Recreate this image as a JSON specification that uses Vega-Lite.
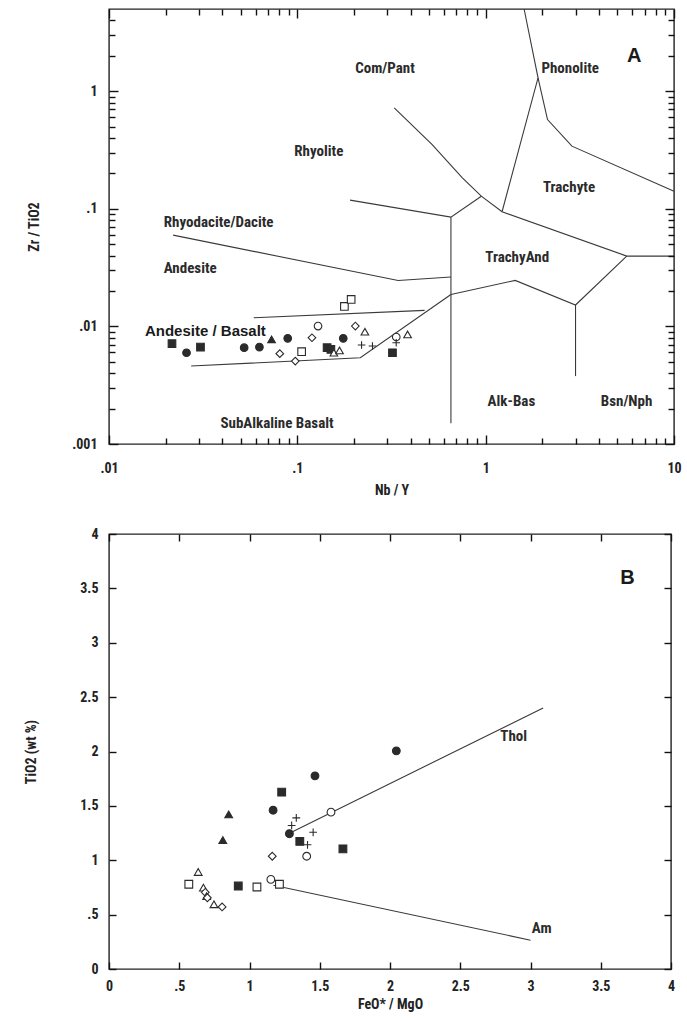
{
  "$schema": "https://vega.github.io/schema/vega-lite/v6.json",
  "background": "white",
  "padding": {"left": 23, "top": 6, "right": 10, "bottom": 0},
  "config": {
    "font": "Liberation Sans Narrow, Roboto Condensed, DejaVu Sans Condensed, sans-serif",
    "view": {"stroke": "#222", "strokeWidth": 1.4},
    "axis": {
      "grid": false, "domain": false,
      "labelFontSize": 14, "labelFontWeight": "bold", "labelColor": "#222",
      "titleFontSize": 14, "titleFontWeight": "bold", "titleColor": "#222",
      "tickColor": "#111", "tickWidth": 1.4,
      "labelOverlap": false, "labelFlush": false
    },
    "concat": {"spacing": 28}
  },
  "datasets": {
    "linesA": [
      {"seg": 1, "i": 1, "x": 0.327, "y": 0.722},
      {"seg": 1, "i": 2, "x": 0.52, "y": 0.352},
      {"seg": 1, "i": 3, "x": 0.752, "y": 0.183},
      {"seg": 1, "i": 4, "x": 0.948, "y": 0.128},
      {"seg": 1, "i": 5, "x": 1.222, "y": 0.0944},
      {"seg": 1, "i": 6, "x": 5.61, "y": 0.0396},
      {"seg": 1, "i": 7, "x": 10, "y": 0.0396},
      {"seg": 2, "i": 1, "x": 1.6, "y": 5},
      {"seg": 2, "i": 2, "x": 1.897, "y": 1.3},
      {"seg": 2, "i": 3, "x": 1.222, "y": 0.0944},
      {"seg": 3, "i": 1, "x": 1.897, "y": 1.3},
      {"seg": 3, "i": 2, "x": 2.13, "y": 0.574},
      {"seg": 3, "i": 3, "x": 2.87, "y": 0.341},
      {"seg": 3, "i": 4, "x": 10, "y": 0.141},
      {"seg": 4, "i": 1, "x": 0.1905, "y": 0.1185},
      {"seg": 4, "i": 2, "x": 0.654, "y": 0.0849},
      {"seg": 4, "i": 3, "x": 0.948, "y": 0.128},
      {"seg": 5, "i": 1, "x": 0.654, "y": 0.0849},
      {"seg": 5, "i": 2, "x": 0.654, "y": 0.0015},
      {"seg": 6, "i": 1, "x": 0.0219, "y": 0.0597},
      {"seg": 6, "i": 2, "x": 0.343, "y": 0.0246},
      {"seg": 6, "i": 3, "x": 0.654, "y": 0.0263},
      {"seg": 7, "i": 1, "x": 0.654, "y": 0.0187},
      {"seg": 7, "i": 2, "x": 1.435, "y": 0.0246},
      {"seg": 7, "i": 3, "x": 3.0, "y": 0.0152},
      {"seg": 7, "i": 4, "x": 5.61, "y": 0.0396},
      {"seg": 8, "i": 1, "x": 3.0, "y": 0.0152},
      {"seg": 8, "i": 2, "x": 3.0, "y": 0.00378},
      {"seg": 9, "i": 1, "x": 0.0587, "y": 0.01185},
      {"seg": 9, "i": 2, "x": 0.474, "y": 0.01368},
      {"seg": 10, "i": 1, "x": 0.0273, "y": 0.0046},
      {"seg": 10, "i": 2, "x": 0.216, "y": 0.00542},
      {"seg": 10, "i": 3, "x": 0.654, "y": 0.0187}
    ],
    "ptsA": [
      {"type": "fsq", "x": 0.0216, "y": 0.00713},
      {"type": "fci", "x": 0.0258, "y": 0.00597},
      {"type": "fsq", "x": 0.0306, "y": 0.00667},
      {"type": "fci", "x": 0.0522, "y": 0.00659},
      {"type": "fci", "x": 0.0629, "y": 0.00667},
      {"type": "ftr", "x": 0.073, "y": 0.00776},
      {"type": "fci", "x": 0.0889, "y": 0.00791},
      {"type": "odi", "x": 0.0807, "y": 0.00586},
      {"type": "odi", "x": 0.0975, "y": 0.00507},
      {"type": "osq", "x": 0.1054, "y": 0.00609},
      {"type": "odi", "x": 0.1196, "y": 0.00801},
      {"type": "oci", "x": 0.1288, "y": 0.01007},
      {"type": "fsq", "x": 0.1439, "y": 0.00659},
      {"type": "fsq", "x": 0.1507, "y": 0.00638},
      {"type": "otr", "x": 0.1563, "y": 0.00597},
      {"type": "otr", "x": 0.1675, "y": 0.00625},
      {"type": "fci", "x": 0.1753, "y": 0.00791},
      {"type": "osq", "x": 0.1778, "y": 0.01479},
      {"type": "osq", "x": 0.1931, "y": 0.01696},
      {"type": "odi", "x": 0.2032, "y": 0.01007},
      {"type": "otr", "x": 0.2284, "y": 0.00901},
      {"type": "plus", "x": 0.2193, "y": 0.00694},
      {"type": "plus", "x": 0.2506, "y": 0.00681},
      {"type": "oci", "x": 0.3352, "y": 0.00812},
      {"type": "plus", "x": 0.335, "y": 0.00727},
      {"type": "fsq", "x": 0.32, "y": 0.00597},
      {"type": "otr", "x": 0.385, "y": 0.00855}
    ],
    "labA": [
      {"kind": "field", "label": "Com/Pant", "x": 0.292, "y": 1.58},
      {"kind": "field", "label": "Phonolite", "x": 2.81, "y": 1.58},
      {"kind": "panel", "label": "A", "x": 6.15, "y": 1.98},
      {"kind": "field", "label": "Rhyolite", "x": 0.13, "y": 0.309},
      {"kind": "field", "label": "Trachyte", "x": 2.77, "y": 0.153},
      {"kind": "field", "label": "Rhyodacite/Dacite", "x": 0.0382, "y": 0.0776},
      {"kind": "field", "label": "TrachyAnd", "x": 1.47, "y": 0.0388},
      {"kind": "field", "label": "Andesite", "x": 0.027, "y": 0.0311},
      {"kind": "group", "label": "Andesite / Basalt", "x": 0.0325, "y": 0.00912},
      {"kind": "field", "label": "Alk-Bas", "x": 1.37, "y": 0.00232},
      {"kind": "field", "label": "Bsn/Nph", "x": 5.6, "y": 0.00232},
      {"kind": "field", "label": "SubAlkaline Basalt", "x": 0.078, "y": 0.00152}
    ],
    "linesB": [
      {"seg": 1, "i": 1, "x": 1.27, "y": 1.24},
      {"seg": 1, "i": 2, "x": 3.09, "y": 2.4},
      {"seg": 2, "i": 1, "x": 1.17, "y": 0.77},
      {"seg": 2, "i": 2, "x": 3.0, "y": 0.265}
    ],
    "ptsB": [
      {"type": "fci", "x": 2.045, "y": 2.006},
      {"type": "fci", "x": 1.466, "y": 1.776},
      {"type": "fsq", "x": 1.229, "y": 1.626},
      {"type": "fci", "x": 1.168, "y": 1.46},
      {"type": "ftr", "x": 0.852, "y": 1.422},
      {"type": "ftr", "x": 0.81, "y": 1.186},
      {"type": "oci", "x": 1.58, "y": 1.442},
      {"type": "plus", "x": 1.333, "y": 1.39},
      {"type": "plus", "x": 1.3, "y": 1.32},
      {"type": "fci", "x": 1.284, "y": 1.244},
      {"type": "plus", "x": 1.453, "y": 1.257},
      {"type": "fsq", "x": 1.358, "y": 1.173},
      {"type": "plus", "x": 1.413, "y": 1.142},
      {"type": "fsq", "x": 1.665, "y": 1.105},
      {"type": "odi", "x": 1.162, "y": 1.037},
      {"type": "oci", "x": 1.407, "y": 1.037},
      {"type": "otr", "x": 0.635, "y": 0.892},
      {"type": "osq", "x": 0.568, "y": 0.779},
      {"type": "fsq", "x": 0.92, "y": 0.763},
      {"type": "osq", "x": 1.053, "y": 0.754},
      {"type": "oci", "x": 1.152, "y": 0.824},
      {"type": "osq", "x": 1.213, "y": 0.779},
      {"type": "otr", "x": 0.672, "y": 0.748},
      {"type": "odi", "x": 0.685, "y": 0.705},
      {"type": "otr", "x": 0.695, "y": 0.67},
      {"type": "odi", "x": 0.7, "y": 0.655},
      {"type": "otr", "x": 0.747, "y": 0.595},
      {"type": "odi", "x": 0.805, "y": 0.571}
    ],
    "labB": [
      {"kind": "field", "label": "Thol", "x": 2.88, "y": 2.14},
      {"kind": "field", "label": "Am", "x": 3.08, "y": 0.38},
      {"kind": "panel", "label": "B", "x": 3.69, "y": 3.6}
    ]
  },
  "vconcat": [
    {
      "width": 565,
      "height": 435,
      "resolve": {"axis": {"x": "independent", "y": "independent"}},
      "layer": [
        {
          "data": {"name": "linesA"},
          "mark": {"type": "line", "stroke": "#3a3a3a", "strokeWidth": 1.1},
          "encoding": {
            "x": {
              "field": "x", "type": "quantitative",
              "scale": {"type": "log", "domain": [0.01, 10], "nice": false},
              "axis": {
                "orient": "bottom", "title": "Nb / Y", "zindex": 1,
                "values": [0.01, 0.1, 1, 10],
                "labelExpr": "replace(format(datum.value, '~g'), '0.', '.')",
                "tickSize": 9, "offset": -9,
                "labelPadding": 17, "minExtent": 40, "maxExtent": 40, "titlePadding": 8
              }
            },
            "y": {
              "field": "y", "type": "quantitative",
              "scale": {"type": "log", "domain": [0.001, 5], "nice": false},
              "axis": {
                "orient": "left", "title": "Zr / TiO2", "zindex": 1,
                "values": [0.001, 0.01, 0.1, 1],
                "labelExpr": "replace(format(datum.value, '~g'), '0.', '.')",
                "tickSize": 9, "offset": -9,
                "labelPadding": 12, "minExtent": 49, "maxExtent": 49, "titlePadding": 28
              }
            },
            "detail": {"field": "seg"},
            "order": {"field": "i", "type": "quantitative"}
          }
        },
        {
          "data": {"name": "ptsA"},
          "mark": {"type": "point", "filled": true, "opacity": 1, "size": 58, "stroke": "#2b2b2b", "strokeWidth": 1.1},
          "encoding": {
            "x": {
              "field": "x", "type": "quantitative",
              "axis": {"orient": "top", "title": null, "labels": false, "zindex": 1, "values": [0.01, 0.1, 1, 10], "tickSize": 9, "offset": -9}
            },
            "y": {
              "field": "y", "type": "quantitative",
              "axis": {"orient": "right", "title": null, "labels": false, "zindex": 1, "values": [0.001, 0.01, 0.1, 1], "tickSize": 9, "offset": -9}
            },
            "shape": {
              "field": "type", "type": "nominal", "legend": null,
              "scale": {
                "domain": ["fsq","osq","fci","oci","ftr","otr","odi","plus"],
                "range": ["square","square","circle","circle","triangle-up","triangle-up","diamond","M-1,0L1,0M0,-1L0,1"]
              }
            },
            "fill": {
              "field": "type", "type": "nominal", "legend": null,
              "scale": {
                "domain": ["fsq","osq","fci","oci","ftr","otr","odi","plus"],
                "range": ["#2b2b2b","white","#2b2b2b","white","#2b2b2b","white","white","transparent"]
              }
            }
          }
        },
        {
          "data": {"name": "labA"},
          "transform": [{"filter": "datum.kind == 'field'"}],
          "mark": {"type": "text", "font": "Liberation Sans Narrow, Roboto Condensed, DejaVu Sans Condensed, sans-serif", "fontSize": 15, "fontWeight": "bold", "fill": "#2b2b2b", "align": "center", "baseline": "middle"},
          "encoding": {
            "x": {
              "field": "x", "type": "quantitative",
              "axis": {"orient": "bottom", "title": null, "labels": false, "zindex": 1, "values": [0.02,0.03,0.04,0.05,0.06,0.07,0.08,0.09,0.2,0.3,0.4,0.5,0.6,0.7,0.8,0.9,2,3,4,5,6,7,8,9], "tickSize": 6, "offset": -6}
            },
            "y": {
              "field": "y", "type": "quantitative",
              "axis": {"orient": "left", "title": null, "labels": false, "zindex": 1, "values": [0.002,0.003,0.004,0.005,0.006,0.007,0.008,0.009,0.02,0.03,0.04,0.05,0.06,0.07,0.08,0.09,0.2,0.3,0.4,0.5,0.6,0.7,0.8,0.9,2,3,4], "tickSize": 6, "offset": -6}
            },
            "text": {"field": "label"}
          }
        },
        {
          "data": {"name": "labA"},
          "transform": [{"filter": "datum.kind == 'group'"}],
          "mark": {"type": "text", "font": "Liberation Sans, Arial, sans-serif", "fontSize": 15, "fontWeight": "bold", "fill": "#1a1a1a", "align": "center", "baseline": "middle"},
          "encoding": {
            "x": {
              "field": "x", "type": "quantitative",
              "axis": {"orient": "top", "title": null, "labels": false, "zindex": 1, "values": [0.02,0.03,0.04,0.05,0.06,0.07,0.08,0.09,0.2,0.3,0.4,0.5,0.6,0.7,0.8,0.9,2,3,4,5,6,7,8,9], "tickSize": 6, "offset": -6}
            },
            "y": {
              "field": "y", "type": "quantitative",
              "axis": {"orient": "right", "title": null, "labels": false, "zindex": 1, "values": [0.002,0.003,0.004,0.005,0.006,0.007,0.008,0.009,0.02,0.03,0.04,0.05,0.06,0.07,0.08,0.09,0.2,0.3,0.4,0.5,0.6,0.7,0.8,0.9,2,3,4], "tickSize": 6, "offset": -6}
            },
            "text": {"field": "label"}
          }
        },
        {
          "data": {"name": "labA"},
          "transform": [{"filter": "datum.kind == 'panel'"}],
          "mark": {"type": "text", "font": "Liberation Sans, Arial, sans-serif", "fontSize": 20, "fontWeight": "bold", "fill": "#1a1a1a", "align": "center", "baseline": "middle"},
          "encoding": {
            "x": {"field": "x", "type": "quantitative", "axis": null},
            "y": {"field": "y", "type": "quantitative", "axis": null},
            "text": {"field": "label"}
          }
        }
      ]
    },
    {
      "width": 562,
      "height": 435,
      "resolve": {"axis": {"x": "independent", "y": "independent"}},
      "layer": [
        {
          "data": {"name": "linesB"},
          "mark": {"type": "line", "stroke": "#3a3a3a", "strokeWidth": 1.1},
          "encoding": {
            "x": {
              "field": "x", "type": "quantitative",
              "scale": {"domain": [0, 4], "nice": false, "zero": false},
              "axis": {
                "orient": "bottom", "title": "FeO* / MgO", "zindex": 1,
                "values": [0,0.5,1,1.5,2,2.5,3,3.5,4],
                "labelExpr": "replace(format(datum.value, '~g'), '0.', '.')",
                "tickSize": 7, "offset": -7, "labelPadding": 10, "minExtent": 31, "maxExtent": 31, "titlePadding": 4
              }
            },
            "y": {
              "field": "y", "type": "quantitative",
              "scale": {"domain": [0, 4], "nice": false, "zero": false},
              "axis": {
                "orient": "left", "title": "TiO2  (wt %)", "zindex": 1,
                "values": [0,0.5,1,1.5,2,2.5,3,3.5,4],
                "labelExpr": "replace(format(datum.value, '~g'), '0.', '.')",
                "tickSize": 7, "offset": -7, "labelPadding": 11, "minExtent": 47, "maxExtent": 47, "titlePadding": 31
              }
            },
            "detail": {"field": "seg"},
            "order": {"field": "i", "type": "quantitative"}
          }
        },
        {
          "data": {"name": "ptsB"},
          "mark": {"type": "point", "filled": true, "opacity": 1, "size": 60, "stroke": "#2b2b2b", "strokeWidth": 1.1},
          "encoding": {
            "x": {
              "field": "x", "type": "quantitative",
              "axis": {"orient": "top", "title": null, "labels": false, "zindex": 1, "values": [0,0.5,1,1.5,2,2.5,3,3.5,4], "tickSize": 7, "offset": -7}
            },
            "y": {
              "field": "y", "type": "quantitative",
              "axis": {"orient": "right", "title": null, "labels": false, "zindex": 1, "values": [0,0.5,1,1.5,2,2.5,3,3.5,4], "tickSize": 7, "offset": -7}
            },
            "shape": {
              "field": "type", "type": "nominal", "legend": null,
              "scale": {
                "domain": ["fsq","osq","fci","oci","ftr","otr","odi","plus"],
                "range": ["square","square","circle","circle","triangle-up","triangle-up","diamond","M-1,0L1,0M0,-1L0,1"]
              }
            },
            "fill": {
              "field": "type", "type": "nominal", "legend": null,
              "scale": {
                "domain": ["fsq","osq","fci","oci","ftr","otr","odi","plus"],
                "range": ["#2b2b2b","white","#2b2b2b","white","#2b2b2b","white","white","transparent"]
              }
            }
          }
        },
        {
          "data": {"name": "labB"},
          "transform": [{"filter": "datum.kind == 'field'"}],
          "mark": {"type": "text", "font": "Liberation Sans Narrow, Roboto Condensed, DejaVu Sans Condensed, sans-serif", "fontSize": 15, "fontWeight": "bold", "fill": "#2b2b2b", "align": "center", "baseline": "middle"},
          "encoding": {
            "x": {"field": "x", "type": "quantitative", "axis": null},
            "y": {"field": "y", "type": "quantitative", "axis": null},
            "text": {"field": "label"}
          }
        },
        {
          "data": {"name": "labB"},
          "transform": [{"filter": "datum.kind == 'panel'"}],
          "mark": {"type": "text", "font": "Liberation Sans, Arial, sans-serif", "fontSize": 20, "fontWeight": "bold", "fill": "#1a1a1a", "align": "center", "baseline": "middle"},
          "encoding": {
            "x": {"field": "x", "type": "quantitative", "axis": null},
            "y": {"field": "y", "type": "quantitative", "axis": null},
            "text": {"field": "label"}
          }
        }
      ]
    }
  ]
}
